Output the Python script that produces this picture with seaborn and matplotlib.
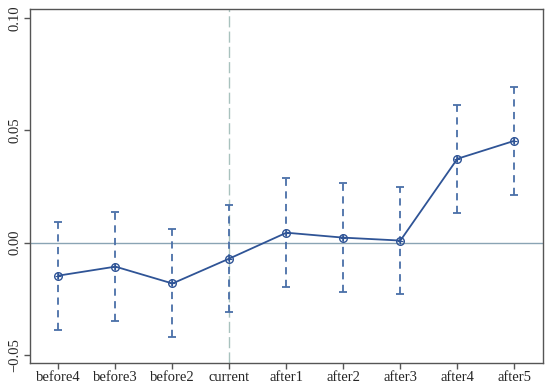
import matplotlib
matplotlib.use("Agg")
import matplotlib.pyplot as plt
import pandas as pd
import seaborn as sns

# event-study coefficients with 95% CI
periods = ["before4", "before3", "before2", "current", "after1",
           "after2", "after3", "after4", "after5"]
coef = [-0.0147, -0.0107, -0.0182, -0.0071, 0.0044, 0.0022, 0.0009, 0.0373, 0.0453]
ci_low = [-0.0387, -0.0347, -0.0422, -0.0311, -0.0196, -0.0218, -0.0231, 0.0133, 0.0213]
ci_high = [0.0093, 0.0138, 0.0062, 0.0169, 0.0289, 0.0267, 0.0249, 0.0613, 0.0693]
ytick_vals = [-0.05, 0.0, 0.05, 0.10]
ytick_labels = ["\u22120.05", "0.00", "0.05", "0.10"]

df = pd.DataFrame({"period": periods, "coef": coef, "lo": ci_low, "hi": ci_high})
df["pos"] = range(len(df))

sns.set_style("white")
plt.rcParams["font.family"] = ["Liberation Serif", "DejaVu Serif"]

fig = plt.figure(figsize=(5.5, 3.88), dpi=100)
ax = fig.add_axes([0.0545, 0.0644, 0.9325, 0.9126])

line_col = "#2f5496"
err_col = "#4a6fa8"

ax.axhline(0, color="#8aa4b4", lw=1, zorder=1)
ax.axvline(3, color="#a9c2be", lw=1, ls=(0, (8, 3)), zorder=1)

err = ax.errorbar(df["pos"], df["coef"],
                  yerr=[df["coef"] - df["lo"], df["hi"] - df["coef"]],
                  fmt="none", ecolor=err_col, elinewidth=1.3, capsize=3,
                  capthick=1.3, zorder=2)
err[2][0].set_linestyle((0, (4, 3)))

sns.lineplot(data=df, x="pos", y="coef", color=line_col, lw=1.3, ax=ax,
             marker="o", markersize=5.5, markerfacecolor="none",
             markeredgecolor=line_col, markeredgewidth=1.0, zorder=3)
ax.scatter(df["pos"], df["coef"], marker="+", s=18, color=line_col,
           linewidths=0.8, zorder=4)

ax.set_xlim(-0.5, 8.5)
ax.set_ylim(-0.0536, 0.104)
ax.set_xticks(df["pos"])
ax.set_xticklabels(periods)
ax.set_yticks(ytick_vals)
ax.set_yticklabels(ytick_labels, rotation=90, va="center")
ax.set_xlabel("")
ax.set_ylabel("")

for s in ax.spines.values():
    s.set_color("#555555")
    s.set_linewidth(1)
ax.tick_params(axis="both", direction="out", length=4, width=1,
               color="#555555", labelsize=10.5, pad=2,
               left=True, bottom=True)

fig.savefig("out.png", dpi=100)
